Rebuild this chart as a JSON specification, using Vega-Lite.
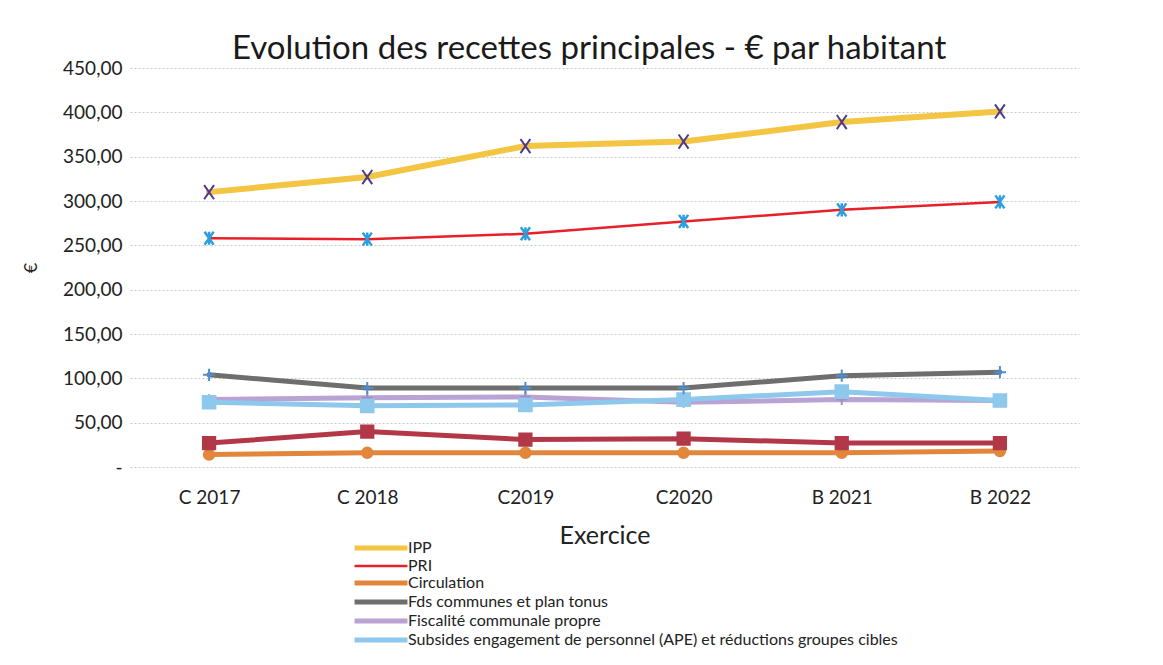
{
  "$schema": "https://vega.github.io/schema/vega-lite/v6.json",
  "autosize": {"type": "none"},
  "width": 949,
  "height": 399,
  "padding": {"left": 130, "top": 68, "right": 84, "bottom": 198},
  "background": "white",
  "title": {
    "text": "Evolution des recettes principales - € par habitant",
    "anchor": "start",
    "frame": "group",
    "dx": 102,
    "dy": 33,
    "fontSize": 33,
    "fontWeight": "normal",
    "color": "#1a1a1a",
    "font": "Lato",
    "baseline": "alphabetic",
    "offset": 0
  },
  "data": {
    "values": [
      {"exercice": "C 2017", "serie": "Circulation", "valeur": 14},
      {"exercice": "C 2018", "serie": "Circulation", "valeur": 16},
      {"exercice": "C2019", "serie": "Circulation", "valeur": 16},
      {"exercice": "C2020", "serie": "Circulation", "valeur": 16},
      {"exercice": "B 2021", "serie": "Circulation", "valeur": 16},
      {"exercice": "B 2022", "serie": "Circulation", "valeur": 18},
      {"exercice": "C 2017", "serie": "Autres recettes", "valeur": 27},
      {"exercice": "C 2018", "serie": "Autres recettes", "valeur": 40},
      {"exercice": "C2019", "serie": "Autres recettes", "valeur": 31},
      {"exercice": "C2020", "serie": "Autres recettes", "valeur": 32},
      {"exercice": "B 2021", "serie": "Autres recettes", "valeur": 27},
      {"exercice": "B 2022", "serie": "Autres recettes", "valeur": 27},
      {"exercice": "C 2017", "serie": "Fiscalité communale propre", "valeur": 76},
      {"exercice": "C 2018", "serie": "Fiscalité communale propre", "valeur": 78},
      {"exercice": "C2019", "serie": "Fiscalité communale propre", "valeur": 79},
      {"exercice": "C2020", "serie": "Fiscalité communale propre", "valeur": 73},
      {"exercice": "B 2021", "serie": "Fiscalité communale propre", "valeur": 76},
      {"exercice": "B 2022", "serie": "Fiscalité communale propre", "valeur": 75},
      {"exercice": "C 2017", "serie": "Subsides engagement de personnel (APE) et réductions groupes cibles", "valeur": 73},
      {"exercice": "C 2018", "serie": "Subsides engagement de personnel (APE) et réductions groupes cibles", "valeur": 69},
      {"exercice": "C2019", "serie": "Subsides engagement de personnel (APE) et réductions groupes cibles", "valeur": 70},
      {"exercice": "C2020", "serie": "Subsides engagement de personnel (APE) et réductions groupes cibles", "valeur": 76},
      {"exercice": "B 2021", "serie": "Subsides engagement de personnel (APE) et réductions groupes cibles", "valeur": 85},
      {"exercice": "B 2022", "serie": "Subsides engagement de personnel (APE) et réductions groupes cibles", "valeur": 75},
      {"exercice": "C 2017", "serie": "Fds communes et plan tonus", "valeur": 104},
      {"exercice": "C 2018", "serie": "Fds communes et plan tonus", "valeur": 89},
      {"exercice": "C2019", "serie": "Fds communes et plan tonus", "valeur": 89},
      {"exercice": "C2020", "serie": "Fds communes et plan tonus", "valeur": 89},
      {"exercice": "B 2021", "serie": "Fds communes et plan tonus", "valeur": 103},
      {"exercice": "B 2022", "serie": "Fds communes et plan tonus", "valeur": 107},
      {"exercice": "C 2017", "serie": "PRI", "valeur": 258},
      {"exercice": "C 2018", "serie": "PRI", "valeur": 257},
      {"exercice": "C2019", "serie": "PRI", "valeur": 263},
      {"exercice": "C2020", "serie": "PRI", "valeur": 277},
      {"exercice": "B 2021", "serie": "PRI", "valeur": 290},
      {"exercice": "B 2022", "serie": "PRI", "valeur": 299},
      {"exercice": "C 2017", "serie": "IPP", "valeur": 310},
      {"exercice": "C 2018", "serie": "IPP", "valeur": 327},
      {"exercice": "C2019", "serie": "IPP", "valeur": 362},
      {"exercice": "C2020", "serie": "IPP", "valeur": 367},
      {"exercice": "B 2021", "serie": "IPP", "valeur": 389},
      {"exercice": "B 2022", "serie": "IPP", "valeur": 401}
    ]
  },
  "encoding": {
    "x": {
      "field": "exercice",
      "type": "ordinal",
      "sort": ["C 2017", "C 2018", "C2019", "C2020", "B 2021", "B 2022"],
      "scale": {"type": "point", "padding": 0.5},
      "title": "Exercice",
      "axis": {
        "labelAngle": 0,
        "ticks": false,
        "domain": false,
        "grid": false,
        "labelFontSize": 19,
        "labelPadding": 21,
        "labelColor": "#222",
        "titleFontSize": 25,
        "titleFontWeight": "normal",
        "titleColor": "#222",
        "titlePadding": 16
      }
    },
    "y": {
      "field": "valeur",
      "type": "quantitative",
      "scale": {"domain": [0, 450], "nice": false},
      "title": "€",
      "axis": {
        "values": [0, 50, 100, 150, 200, 250, 300, 350, 400, 450],
        "labelExpr": "datum.value == 0 ? '-' : replace(format(datum.value, '.2f'), '.', ',')",
        "ticks": false,
        "domain": false,
        "grid": true,
        "gridColor": "#c8c8c8",
        "gridDash": [2, 2],
        "gridWidth": 1,
        "labelFontSize": 19,
        "labelPadding": 8,
        "labelColor": "#222",
        "titleFontSize": 18,
        "titleFontWeight": "normal",
        "titleColor": "#222",
        "titlePadding": 22
      }
    }
  },
  "layer": [
    {
      "mark": {"type": "line", "strokeCap": "round", "strokeJoin": "round"},
      "encoding": {
        "color": {
          "field": "serie",
          "type": "nominal",
          "scale": {
            "domain": ["IPP", "PRI", "Circulation", "Fds communes et plan tonus", "Fiscalité communale propre", "Subsides engagement de personnel (APE) et réductions groupes cibles", "Autres recettes"],
            "range": ["#F4C542", "#E8202A", "#E2863C", "#6E6E6E", "#B9A2D4", "#8EC8EC", "#B23848"]
          },
          "legend": {
            "values": ["IPP", "PRI", "Circulation", "Fds communes et plan tonus", "Fiscalité communale propre", "Subsides engagement de personnel (APE) et réductions groupes cibles"],
            "title": null,
            "orient": "none",
            "legendX": 243,
            "legendY": 472,
            "direction": "vertical",
            "symbolType": "M-5,0L5,0",
            "symbolSize": 112,
            "symbolStrokeWidth": 5,
            "labelFontSize": 16,
            "labelColor": "#222",
            "labelOffset": 19,
            "labelLimit": 800,
            "rowPadding": -1,
            "encode": {
              "symbols": {
                "update": {
                  "strokeWidth": {"signal": "datum.value === 'PRI' ? 2.5 : 5"}
                }
              }
            }
          }
        },
        "strokeWidth": {
          "condition": [
            {"test": "datum.serie === 'PRI'", "value": 2.5},
            {"test": "datum.serie === 'IPP'", "value": 6}
          ],
          "value": 5
        }
      }
    },
    {
      "transform": [{"filter": "datum.serie === 'Circulation'"}],
      "mark": {"type": "point", "shape": "circle", "size": 110, "filled": true, "fill": "#E2863C", "stroke": "#E2863C", "opacity": 1}
    },
    {
      "transform": [{"filter": "datum.serie === 'Autres recettes'"}],
      "mark": {"type": "point", "shape": "square", "size": 150, "filled": true, "fill": "#B23848", "stroke": "#B23848", "opacity": 1}
    },
    {
      "transform": [{"filter": "datum.serie === 'Fiscalité communale propre'"}],
      "mark": {"type": "point", "shape": "M-1,0L1,0M0,-1L0,1", "size": 120, "filled": false, "stroke": "#A58CC4", "strokeWidth": 2, "opacity": 1}
    },
    {
      "transform": [{"filter": "datum.serie === 'Subsides engagement de personnel (APE) et réductions groupes cibles'"}],
      "mark": {"type": "point", "shape": "square", "size": 160, "filled": true, "fill": "#8EC8EC", "stroke": "#8EC8EC", "opacity": 1}
    },
    {
      "transform": [{"filter": "datum.serie === 'Fds communes et plan tonus'"}],
      "mark": {"type": "point", "shape": "M-1,0L1,0M0,-1L0,1", "size": 150, "filled": false, "stroke": "#4C8FD0", "strokeWidth": 2, "opacity": 1}
    },
    {
      "transform": [{"filter": "datum.serie === 'PRI'"}],
      "mark": {"type": "point", "shape": "M-0.7,-1L0.7,1M-0.7,1L0.7,-1M0,-1L0,1", "size": 170, "filled": false, "stroke": "#2C9FE0", "strokeWidth": 2.5, "opacity": 1}
    },
    {
      "transform": [{"filter": "datum.serie === 'IPP'"}],
      "mark": {"type": "point", "shape": "M-0.7,-1L0.7,1M-0.7,1L0.7,-1", "size": 200, "filled": false, "stroke": "#4B3A92", "strokeWidth": 2, "opacity": 1}
    }
  ],
  "config": {
    "font": "Lato",
    "view": {"stroke": null}
  }
}
